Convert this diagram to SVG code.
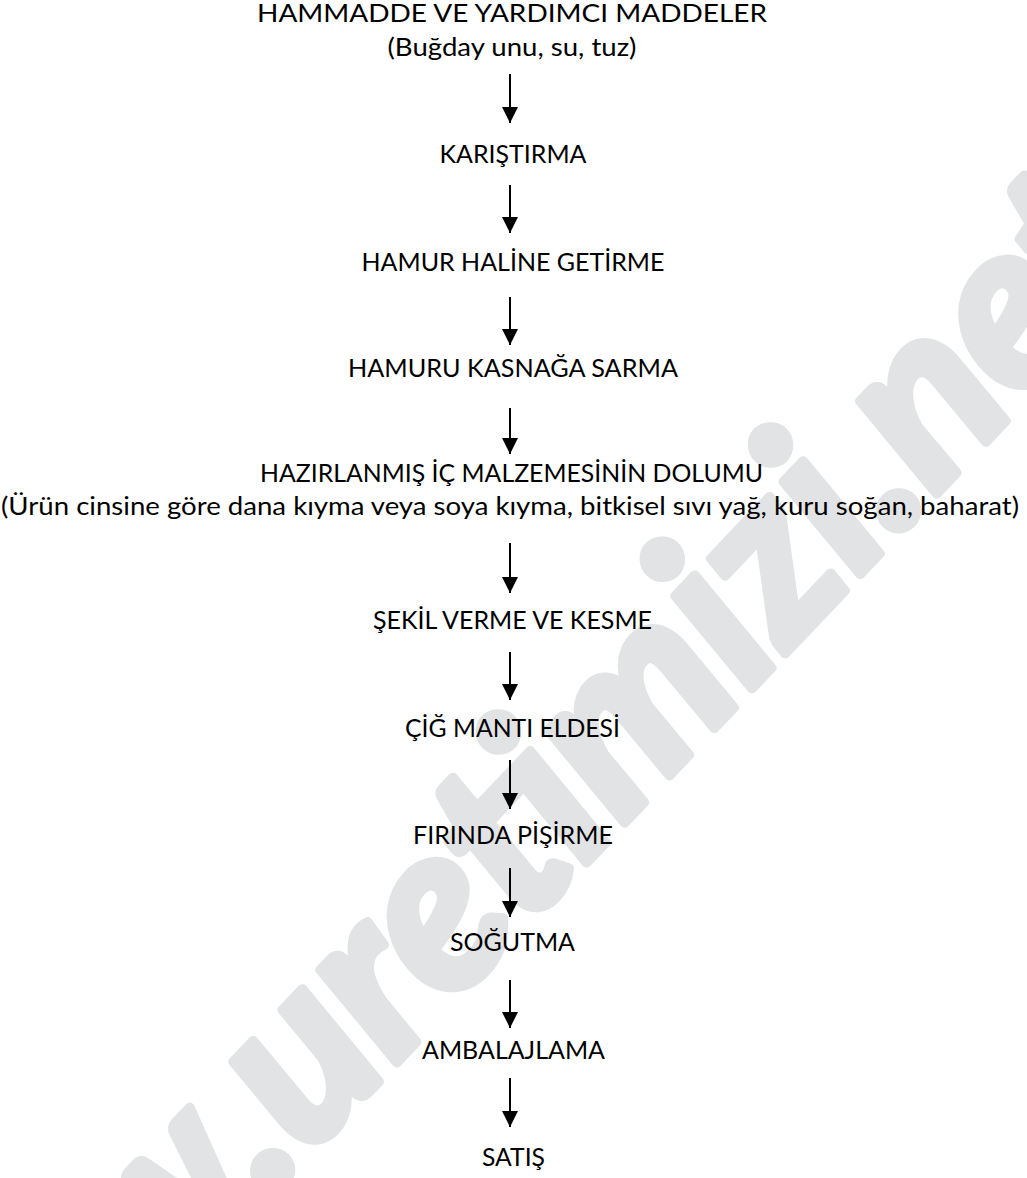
<svg xmlns="http://www.w3.org/2000/svg" width="1027" height="1178" viewBox="0 0 1027 1178">
<defs>
<style>
.t{font-family:Lato,"Liberation Sans",sans-serif;font-size:25px;fill:#000;text-anchor:middle}
.c{stroke:#000;stroke-width:2;fill:none}
.wm{font-family:Lato,"Liberation Sans",sans-serif;font-size:232px;font-weight:bold;font-style:italic;fill:#e2e3e5;stroke:#e2e3e5;stroke-width:10;stroke-linejoin:round}
</style>
<marker id="ah" markerUnits="userSpaceOnUse" viewBox="0 0 16 16" refX="16" refY="8" markerWidth="16" markerHeight="16" orient="auto">
<path d="M0,0 L16,8 L0,16 z" fill="#000"/>
</marker>
</defs>
<rect width="1027" height="1178" fill="#fff"/>
<g id="watermark">
<text class="wm" transform="translate(-80,1565) rotate(-46.5)" x="0" y="0">www.uretimizi.net</text>
</g>
<g id="connectors">
<line class="c" x1="510" y1="74" x2="510" y2="123" marker-end="url(#ah)"/>
<line class="c" x1="510" y1="185" x2="510" y2="233" marker-end="url(#ah)"/>
<line class="c" x1="510" y1="297" x2="510" y2="345" marker-end="url(#ah)"/>
<line class="c" x1="510" y1="408" x2="510" y2="454" marker-end="url(#ah)"/>
<line class="c" x1="510" y1="543" x2="510" y2="593" marker-end="url(#ah)"/>
<line class="c" x1="510" y1="652" x2="510" y2="700" marker-end="url(#ah)"/>
<line class="c" x1="510" y1="760" x2="510" y2="809" marker-end="url(#ah)"/>
<line class="c" x1="510" y1="868" x2="510" y2="917" marker-end="url(#ah)"/>
<line class="c" x1="510" y1="980" x2="510" y2="1028" marker-end="url(#ah)"/>
<line class="c" x1="510" y1="1078" x2="510" y2="1127" marker-end="url(#ah)"/>
</g>
<g id="n1"><text class="t" x="512" y="22" textLength="510" lengthAdjust="spacingAndGlyphs">HAMMADDE VE YARDIMCI MADDELER</text>
<text class="t" x="512" y="56" textLength="249" lengthAdjust="spacingAndGlyphs">(Buğday unu, su, tuz)</text></g>
<g id="n2"><text class="t" x="513" y="163" textLength="147" lengthAdjust="spacingAndGlyphs">KARIŞTIRMA</text></g>
<g id="n3"><text class="t" x="513" y="271" textLength="303" lengthAdjust="spacingAndGlyphs">HAMUR HALİNE GETİRME</text></g>
<g id="n4"><text class="t" x="513" y="377" textLength="330" lengthAdjust="spacingAndGlyphs">HAMURU KASNAĞA SARMA</text></g>
<g id="n5"><text class="t" x="511.5" y="482" textLength="503" lengthAdjust="spacingAndGlyphs">HAZIRLANMIŞ İÇ MALZEMESİNİN DOLUMU</text>
<text class="t" x="510" y="515" textLength="1018" lengthAdjust="spacingAndGlyphs">(Ürün cinsine göre dana kıyma veya soya kıyma, bitkisel sıvı yağ, kuru soğan, baharat)</text></g>
<g id="n6"><text class="t" x="512.5" y="629" textLength="279" lengthAdjust="spacingAndGlyphs">ŞEKİL VERME VE KESME</text></g>
<g id="n7"><text class="t" x="512.5" y="737" textLength="215" lengthAdjust="spacingAndGlyphs">ÇİĞ MANTI ELDESİ</text></g>
<g id="n8"><text class="t" x="513" y="844" textLength="200" lengthAdjust="spacingAndGlyphs">FIRINDA PİŞİRME</text></g>
<g id="n9"><text class="t" x="512.5" y="951" textLength="125" lengthAdjust="spacingAndGlyphs">SOĞUTMA</text></g>
<g id="n10"><text class="t" x="513.5" y="1059" textLength="183" lengthAdjust="spacingAndGlyphs">AMBALAJLAMA</text></g>
<g id="n11"><text class="t" x="513.5" y="1166" textLength="63" lengthAdjust="spacingAndGlyphs">SATIŞ</text></g>
</svg>
